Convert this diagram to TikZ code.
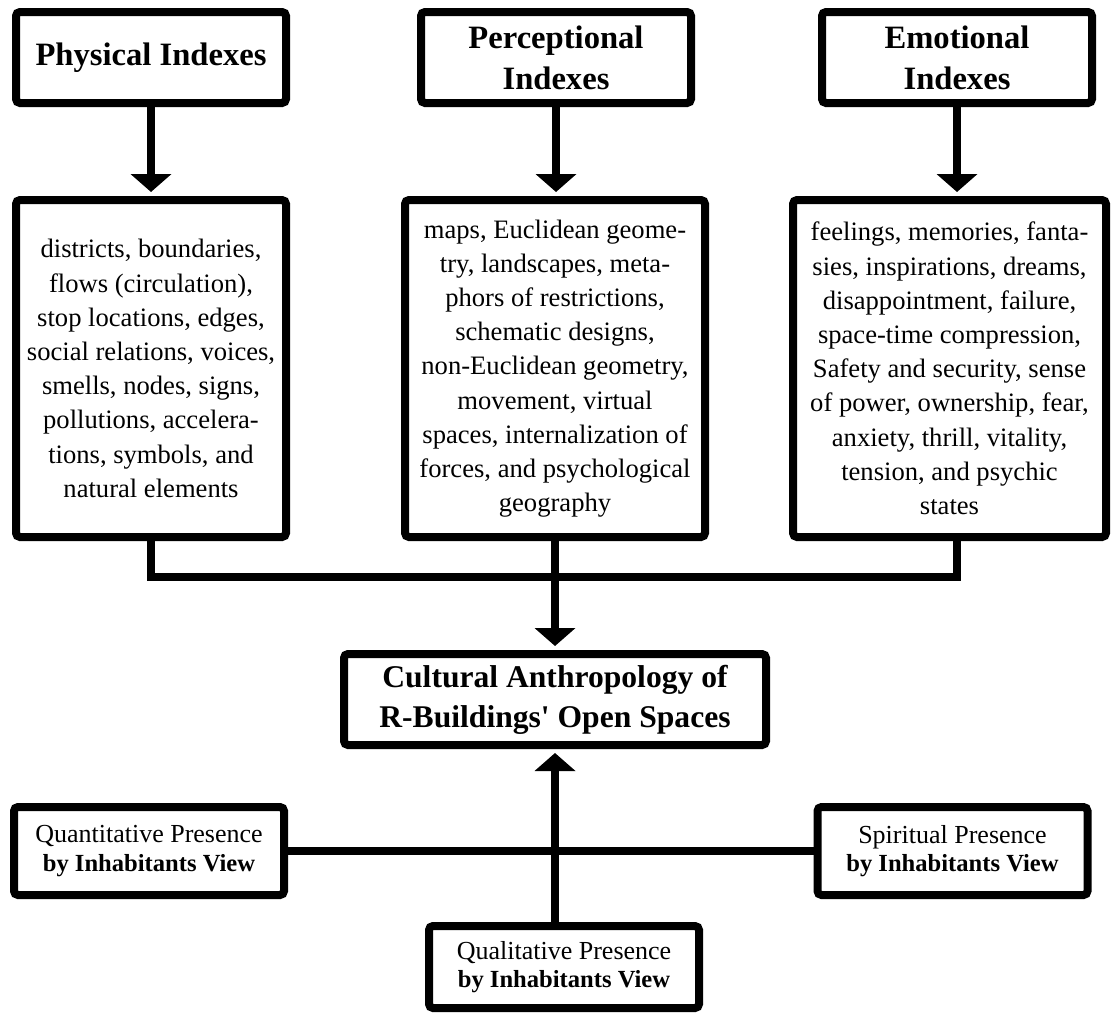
\documentclass[tikz,border=0pt]{standalone}
\usepackage{fontspec}
\setmainfont{Liberation Serif}
\usetikzlibrary{arrows.meta}
\tikzstyle{box}=[draw, line width=4pt, rounded corners=2pt, fill=white, align=center, inner sep=0pt]
\tikzstyle{head}=[box, minimum width=135pt, minimum height=45.5pt, font=\bfseries\fontsize{16.3}{20.5}\selectfont]
\tikzstyle{body}=[box, minimum height=168.5pt, font=\fontsize{13.3}{17.1}\selectfont]
\tikzstyle{view}=[box, minimum width=135pt, minimum height=44pt, font=\fontsize{13}{14.3}\selectfont]
\tikzset{arr/.style={-{Triangle[width=20pt,length=9pt]}, shorten >=2pt}}
\newcommand{\inhab}{\\{\bfseries\fontsize{12.3}{14.3}\selectfont by Inhabitants View}}

\begin{document}
\begin{tikzpicture}[x=0.5pt, y=-0.5pt, line width=4pt]
		\useasboundingbox (0,0) rectangle (1112,1012);
		\node[head] (physhead) at (151,57.5) {\raisebox{2pt}{Physical Indexes}};
		\node[head] (perchead) at (556,57.5) {Perceptional\\Indexes};
		\node[head] (emohead) at (957,57.5) {Emotional\\Indexes};
		\node[body, minimum width=135pt] (physbody) at (151,368.5) {districts, boundaries,\\flows (circulation),\\stop locations, edges,\\social relations, voices,\\smells, nodes, signs,\\pollutions, accelera-\\tions, symbols, and\\natural elements};
		\node[body, minimum width=150pt] (percbody) at (555,368.5) {maps, Euclidean geome-\\try, landscapes, meta-\\phors of restrictions,\\schematic designs,\\non-Euclidean geometry,\\movement, virtual\\spaces, internalization of\\forces, and psychological\\geography};
		\node[body, minimum width=156.5pt] (emobody) at (949.5,368.5) {feelings, memories, fanta-\\sies, inspirations, dreams,\\disappointment, failure,\\space-time compression,\\Safety and security, sense\\of power, ownership, fear,\\anxiety, thrill, vitality,\\tension, and psychic\\states};
		\node[box, minimum width=211pt, minimum height=45.5pt, font=\bfseries\fontsize{15.8}{20}\selectfont] (culture) at (555,699.5) {Cultural Anthropology of\\R-Buildings\textquotesingle{} Open Spaces};
		\node[view] (quant) at (149,851) {Quantitative Presence\inhab};
		\node[view] (spirit) at (952.5,851) {Spiritual Presence\inhab};
		\node[view, minimum height=41pt] (qual) at (564,967) {Qualitative Presence\inhab};
		\coordinate (join) at (555,577);
		\draw[arr] (physhead) -- (physbody);
		\draw[arr] (perchead) -- (perchead |- percbody.north);
		\draw[arr] (emohead) -- (emohead |- emobody.north);
		\draw (physbody) |- (join) -| (emobody.south -| emohead);
		\draw[arr] (percbody) -- (culture);
		\draw (quant) -- (spirit);
		\draw[arr] (qual.north -| culture) -- (culture);
		\end{tikzpicture}
\end{document}
